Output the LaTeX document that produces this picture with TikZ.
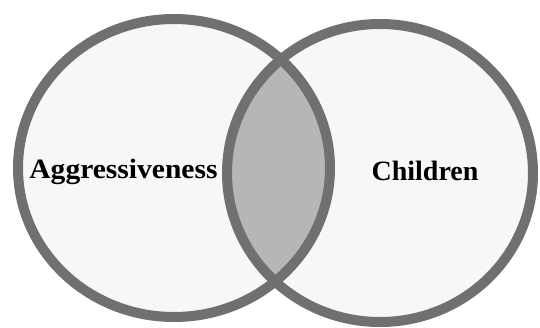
\documentclass[tikz,border=0pt]{standalone}
\usepackage{fontspec}
\setmainfont{Liberation Serif}
\definecolor{ringgray}{HTML}{707070}
\definecolor{setfill}{HTML}{F7F7F7}
\definecolor{overlapfill}{HTML}{B6B6B6}
\tikzset{
  ring/.style={draw=ringgray, line width=10pt},
  setlabel/.style={font=\fontsize{28}{30}\selectfont\bfseries, text=black, inner sep=0pt, anchor=base}
}
\begin{document}
\begin{tikzpicture}[x=1pt,y=-1pt]
  \useasboundingbox (0,0) rectangle (540,327);
  \fill[white] (0,0) rectangle (540,327);
  % set interiors
  \fill[setfill] (174,168) ellipse [x radius=156, y radius=149];
  \fill[setfill] (380,173) ellipse [x radius=153, y radius=149];
  % intersection
  \begin{scope}
    \clip (174,168) ellipse [x radius=156, y radius=149];
    \fill[overlapfill] (380,173) ellipse [x radius=153, y radius=149];
  \end{scope}
  % outlines
  \draw[ring] (174,168) ellipse [x radius=156, y radius=149];
  \draw[ring] (380,173) ellipse [x radius=153, y radius=149];
  % labels
  \node[setlabel, xscale=1.055] (aggr) at (123.5,178) {Aggressiveness};
  \node[setlabel] (kids) at (425,180) {Children};
\end{tikzpicture}
\end{document}
